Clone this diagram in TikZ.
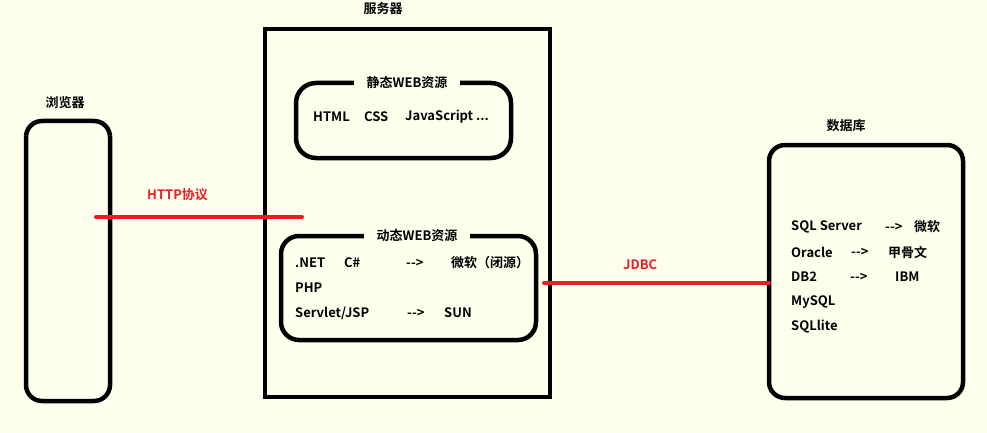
\documentclass[tikz,border=0pt]{standalone}
\usepackage{fontspec}
\setmainfont{Noto Sans CJK SC}[BoldFont={* Bold}]
\definecolor{bg}{RGB}{255,255,238}
\definecolor{pred}{RGB}{237,28,36}
\begin{document}
\begin{tikzpicture}[x=1pt,y=-1pt,
  box/.style={draw=black,line width=4.5pt},
  txt/.style={font=\fontsize{13}{15}\selectfont\bfseries,inner sep=0pt,anchor=west,text=black},
  ttl/.style={font=\fontsize{13}{15}\selectfont\bfseries,inner sep=0pt,text=black},
  gap/.style={font=\fontsize{13}{15}\selectfont\bfseries,fill=bg,inner xsep=13pt,inner ysep=4pt,text=black},
  link/.style={draw=pred,line width=4pt,line cap=round},
  lbl/.style={font=\fontsize{13}{15}\selectfont\bfseries,inner sep=0pt,anchor=west,text=pred}]
\fill[bg] (0,0) rectangle (987,433);
\useasboundingbox (0,0) rectangle (987,433);
% browser
\draw[box,rounded corners=16pt] (26,121) rectangle (110,401);
\node[ttl] (browserlbl) at (65,103) {浏览器};
% server
\draw[box] (265,29) rectangle (550,397);
\node[ttl] (serverlbl) at (383,9) {服务器};
% static
\draw[box,rounded corners=20pt] (296,83) rectangle (511,158);
\node[gap] (statictitle) at (407,83) {静态WEB资源};
\node[txt] (html) at (313,117) {HTML};
\node[txt] (css) at (364,117) {CSS};
\node[txt] (js) at (405,117) {JavaScript ...};
% dynamic
\draw[box,rounded corners=18pt] (281,236) rectangle (536,340);
\node[gap] (dyntitle) at (417,236) {动态WEB资源};
\node[txt] (net) at (295,263) {.NET};
\node[txt] (cs) at (344,263) {C\#};
\node[txt] (a1) at (406,263) {-{}->};
\node[txt] (ms1) at (451,263) {微软（闭源）};
\node[txt] (php) at (295,288) {PHP};
\node[txt] (jsp) at (295,313) {Servlet/JSP};
\node[txt] (a2) at (407,313) {-{}->};
\node[txt] (sun) at (444,313) {SUN};
% database
\draw[box,rounded corners=16pt] (769,145) rectangle (963,398);
\node[ttl] (dblbl) at (846,126) {数据库};
\node[txt] (sqls) at (791,227) {SQL Server};
\node[txt] (a3) at (885,227) {-{}->};
\node[txt] (ms2) at (914,227) {微软};
\node[txt] (ora) at (791,252) {Oracle};
\node[txt] (a4) at (851,252) {-{}->};
\node[txt] (jgw) at (888,252) {甲骨文};
\node[txt] (db2) at (791,277) {DB2};
\node[txt] (a5) at (850,277) {-{}->};
\node[txt] (ibm) at (895,277) {IBM};
\node[txt] (mysql) at (791,302) {MySQL};
\node[txt] (sqlite) at (791,327) {SQLlite};
% connectors
\coordinate (h1) at (96,217);
\coordinate (h2) at (302,217);
\draw[link] (h1) -- (h2);
\node[lbl] (httplbl) at (147,195) {HTTP协议};
\coordinate (j1) at (544,283);
\coordinate (j2) at (769,283);
\draw[link] (j1) -- (j2);
\node[lbl] (jdbclbl) at (623,265) {JDBC};
\end{tikzpicture}
\end{document}
